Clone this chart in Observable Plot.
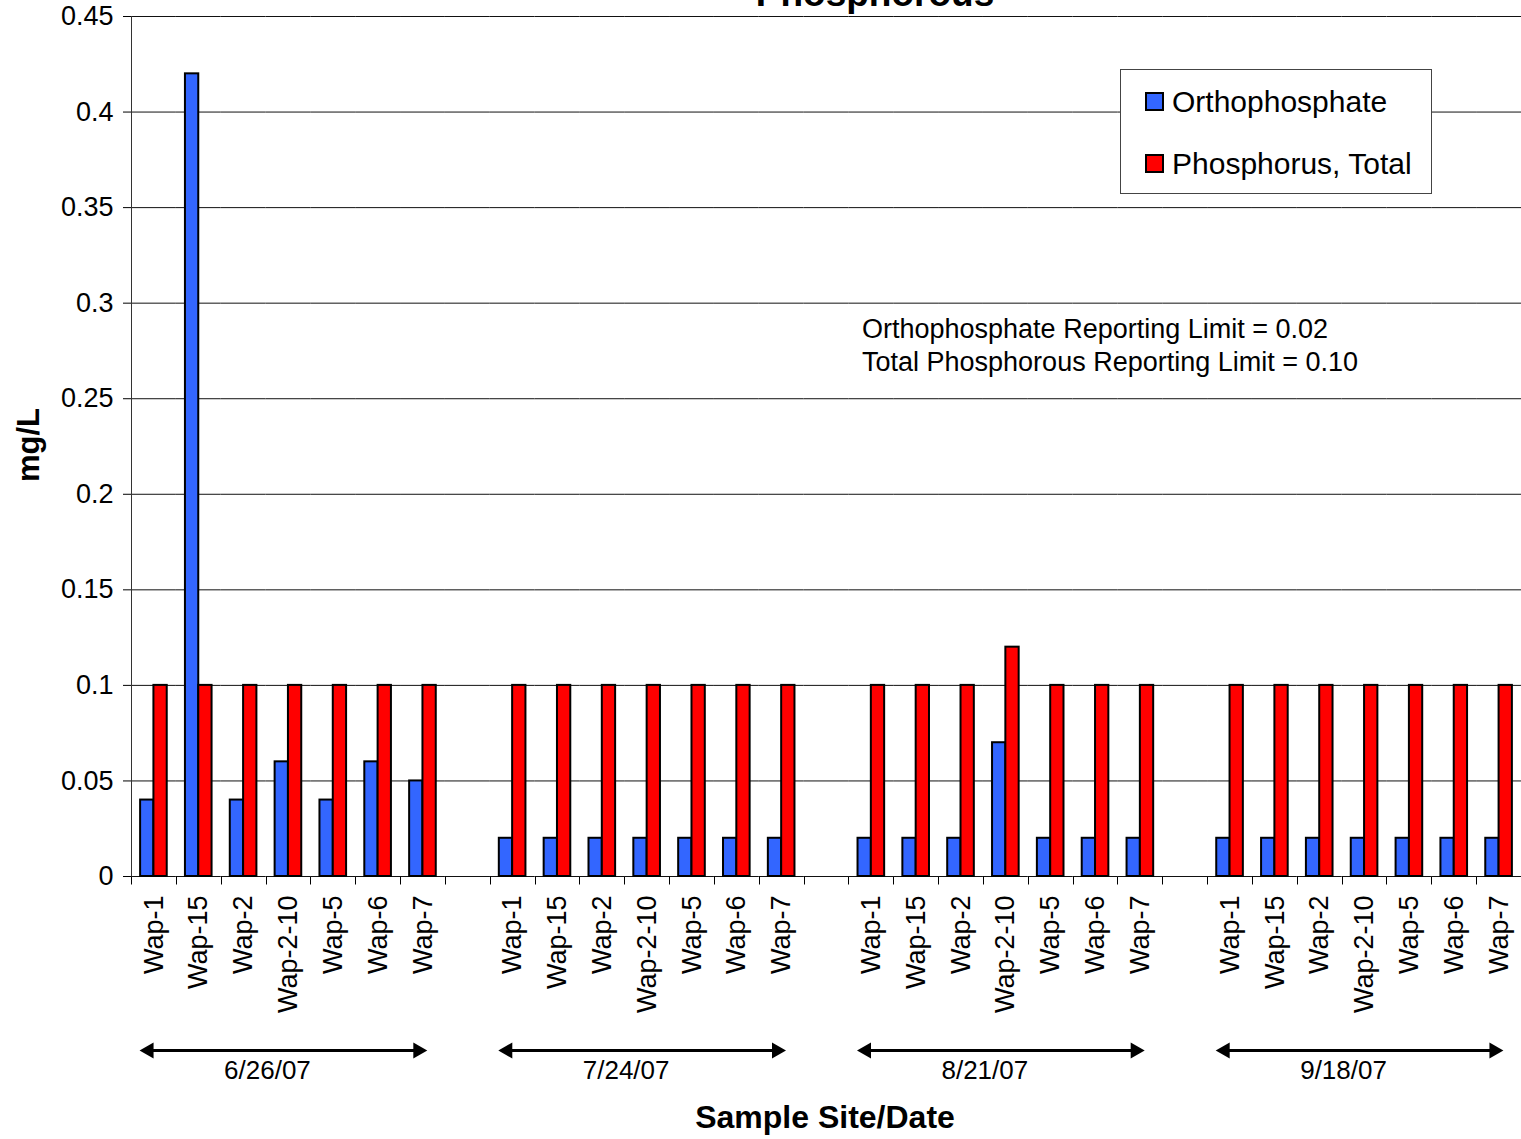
<!DOCTYPE html>
<html>
<head>
<meta charset="utf-8">
<script src="https://cdn.jsdelivr.net/npm/d3@7"></script>
<script src="https://cdn.jsdelivr.net/npm/@observablehq/plot@0.6"></script>
<style>
  body { margin: 0; background: #fff; }
  #chart { position: relative; width: 1521px; height: 1139px; overflow: hidden; background: #fff; }
  #chart > svg { display: block; }
  #overlay { position: absolute; left: 0; top: 0; pointer-events: none; }
</style>
</head>
<body>
<div id="chart"></div>
<script>
// Sampling dates and sites (same site order on every date)
const dates = ["6/26/07", "7/24/07", "8/21/07", "9/18/07"];
const sites = ["Wap-1", "Wap-15", "Wap-2", "Wap-2-10", "Wap-5", "Wap-6", "Wap-7"];
const seriesNames = ["Orthophosphate", "Phosphorus, Total"];
const seriesColors = ["#3366FF", "#FF0000"];

// mg/L, one row per date, one value per site
const orthophosphate = [
  [0.04, 0.42, 0.04, 0.06, 0.04, 0.06, 0.05],
  [0.02, 0.02, 0.02, 0.02, 0.02, 0.02, 0.02],
  [0.02, 0.02, 0.02, 0.07, 0.02, 0.02, 0.02],
  [0.02, 0.02, 0.02, 0.02, 0.02, 0.02, 0.02]
];
const phosphorusTotal = [
  [0.10, 0.10, 0.10, 0.10, 0.10, 0.10, 0.10],
  [0.10, 0.10, 0.10, 0.10, 0.10, 0.10, 0.10],
  [0.10, 0.10, 0.10, 0.12, 0.10, 0.10, 0.10],
  [0.10, 0.10, 0.10, 0.10, 0.10, 0.10, 0.10]
];
const yTicks = [0, 0.05, 0.1, 0.15, 0.2, 0.25, 0.3, 0.35, 0.4, 0.45];
const orthoReportingLimit = "0.02";
const totalReportingLimit = "0.10";

const FONT = '"Liberation Sans", Arial, Helvetica, sans-serif';
const W = 1521, H = 1139;
const MAIN_H = 1030;

// One facet per site/date, with an empty slot between dates
const keys = [];
const siteOf = new Map();
dates.forEach((d, i) => {
  sites.forEach(s => { const k = `${d} ${s}`; keys.push(k); siteOf.set(k, s); });
  if (i < dates.length - 1) keys.push(`gap ${i}`);
});

const rows = [];
dates.forEach((d, i) => sites.forEach((s, j) => {
  rows.push({key: `${d} ${s}`, series: seriesNames[0], value: orthophosphate[i][j]});
  rows.push({key: `${d} ${s}`, series: seriesNames[1], value: phosphorusTotal[i][j]});
}));
// keep the spacer facets present
keys.filter(k => !siteOf.has(k)).forEach(k => rows.push({key: k, series: seriesNames[0], value: null}));

const main = Plot.plot({
  width: W, height: MAIN_H,
  marginLeft: 131, marginRight: 0, marginTop: 16, marginBottom: MAIN_H - 876,
  style: {fontFamily: FONT, fontSize: "27px", color: "#000", background: "transparent", overflow: "visible"},
  fx: {domain: keys, padding: 0, round: false, label: null, tickRotate: -90, tickSize: 0, tickPadding: 19,
       tickFormat: k => siteOf.get(k) ?? ""},
  x: {domain: seriesNames, axis: null, round: false, paddingInner: 0, paddingOuter: 0.684},
  y: {domain: [0, 0.45], ticks: yTicks, tickFormat: d3.format("~g"), tickSize: 8, tickPadding: 10, label: null},
  color: {domain: seriesNames, range: seriesColors},
  marks: [
    Plot.ruleY(yTicks, {stroke: "#111", strokeOpacity: 1}),
    Plot.barY(rows.filter(r => r.value != null), {fx: "key", x: "series", y: "value", fill: "series", stroke: "#000", strokeWidth: 2}),
    Plot.ruleY(rows.filter(r => r.value == null), {fx: "key", y: () => 0, stroke: "#111", strokeOpacity: 1})
  ]
});

// category boundary ticks and the value axis line, from the plot's own scales
{
  const fx = main.scale("fx"), y = main.scale("y");
  const svg = d3.select(main);
  const y0 = Math.round(y.apply(0)) + 0.5;
  const g = svg.append("g").attr("stroke", "#000").attr("stroke-width", 1);
  keys.forEach(k => {
    const x = Math.round(fx.apply(k)) + 0.5;
    g.append("line").attr("x1", x).attr("x2", x).attr("y1", y0).attr("y2", y0 + 8);
  });
  const xl = Math.round(fx.apply(keys[0])) + 0.5;
  g.append("line").attr("x1", xl).attr("x2", xl).attr("y1", y.apply(0.45)).attr("y2", y0).attr("stroke", "#333");
}

// date ranges below the site labels
const groups = dates.map(d => ({date: d, first: `${d} ${sites[0]}`, mid: `${d} ${sites[3]}`, last: `${d} ${sites[sites.length - 1]}`}));
const dateAxis = Plot.plot({
  width: W, height: 60,
  marginLeft: 131, marginRight: 0, marginTop: 20, marginBottom: 20,
  style: {fontFamily: FONT, fontSize: "26px", color: "#000", background: "transparent", overflow: "visible"},
  x: {type: "point", domain: keys, padding: 0.5, round: false, axis: null},
  y: {type: "point", domain: ["arrow", "label"], padding: 0, axis: null},
  marks: [
    Plot.ruleY(groups, {x1: "first", x2: "last", y: () => "arrow", stroke: "#000", strokeWidth: 3, insetLeft: -5}),
    Plot.dot(groups, {x: "first", y: () => "arrow", symbol: "triangle", rotate: -90, r: 6, fill: "#000", stroke: "none", dx: -5}),
    Plot.dot(groups, {x: "last", y: () => "arrow", symbol: "triangle", rotate: 90, r: 6, fill: "#000", stroke: "none", dx: -5}),
    Plot.text(groups, {x: "mid", y: () => "label", text: "date", dx: -21, fontSize: 26})
  ]
});

const chart = document.getElementById("chart");
chart.append(main, dateAxis);

// titles, legend and reporting-limit note
const ov = d3.create("svg").attr("id", "overlay").attr("width", W).attr("height", H)
  .attr("font-family", FONT).attr("fill", "#000");
ov.append("text").attr("x", 875).attr("y", 6).attr("text-anchor", "middle")
  .attr("font-size", 37).attr("font-weight", "bold").text("Phosphorous");
ov.append("text").attr("transform", "translate(39,445) rotate(-90)").attr("text-anchor", "middle")
  .attr("font-size", 31).attr("font-weight", "bold").text("mg/L");
ov.append("text").attr("x", 825).attr("y", 1128).attr("text-anchor", "middle")
  .attr("font-size", 32).attr("font-weight", "bold").text("Sample Site/Date");

const note = ov.append("g").attr("font-size", 27);
note.append("text").attr("x", 862).attr("y", 338).text(`Orthophosphate Reporting Limit = ${orthoReportingLimit}`);
note.append("text").attr("x", 862).attr("y", 371).text(`Total Phosphorous Reporting Limit = ${totalReportingLimit}`);

const lg = ov.append("g");
lg.append("rect").attr("x", 1120.5).attr("y", 69.5).attr("width", 311).attr("height", 124)
  .attr("fill", "#fff").attr("stroke", "#444");
seriesNames.forEach((s, i) => {
  const base = 112 + i * 62;
  lg.append("rect").attr("x", 1146).attr("y", base - 19).attr("width", 17).attr("height", 17)
    .attr("fill", seriesColors[i]).attr("stroke", "#000").attr("stroke-width", 2);
  lg.append("text").attr("x", 1172).attr("y", base).attr("font-size", 30).text(s);
});
chart.append(ov.node());
</script>
</body>
</html>
